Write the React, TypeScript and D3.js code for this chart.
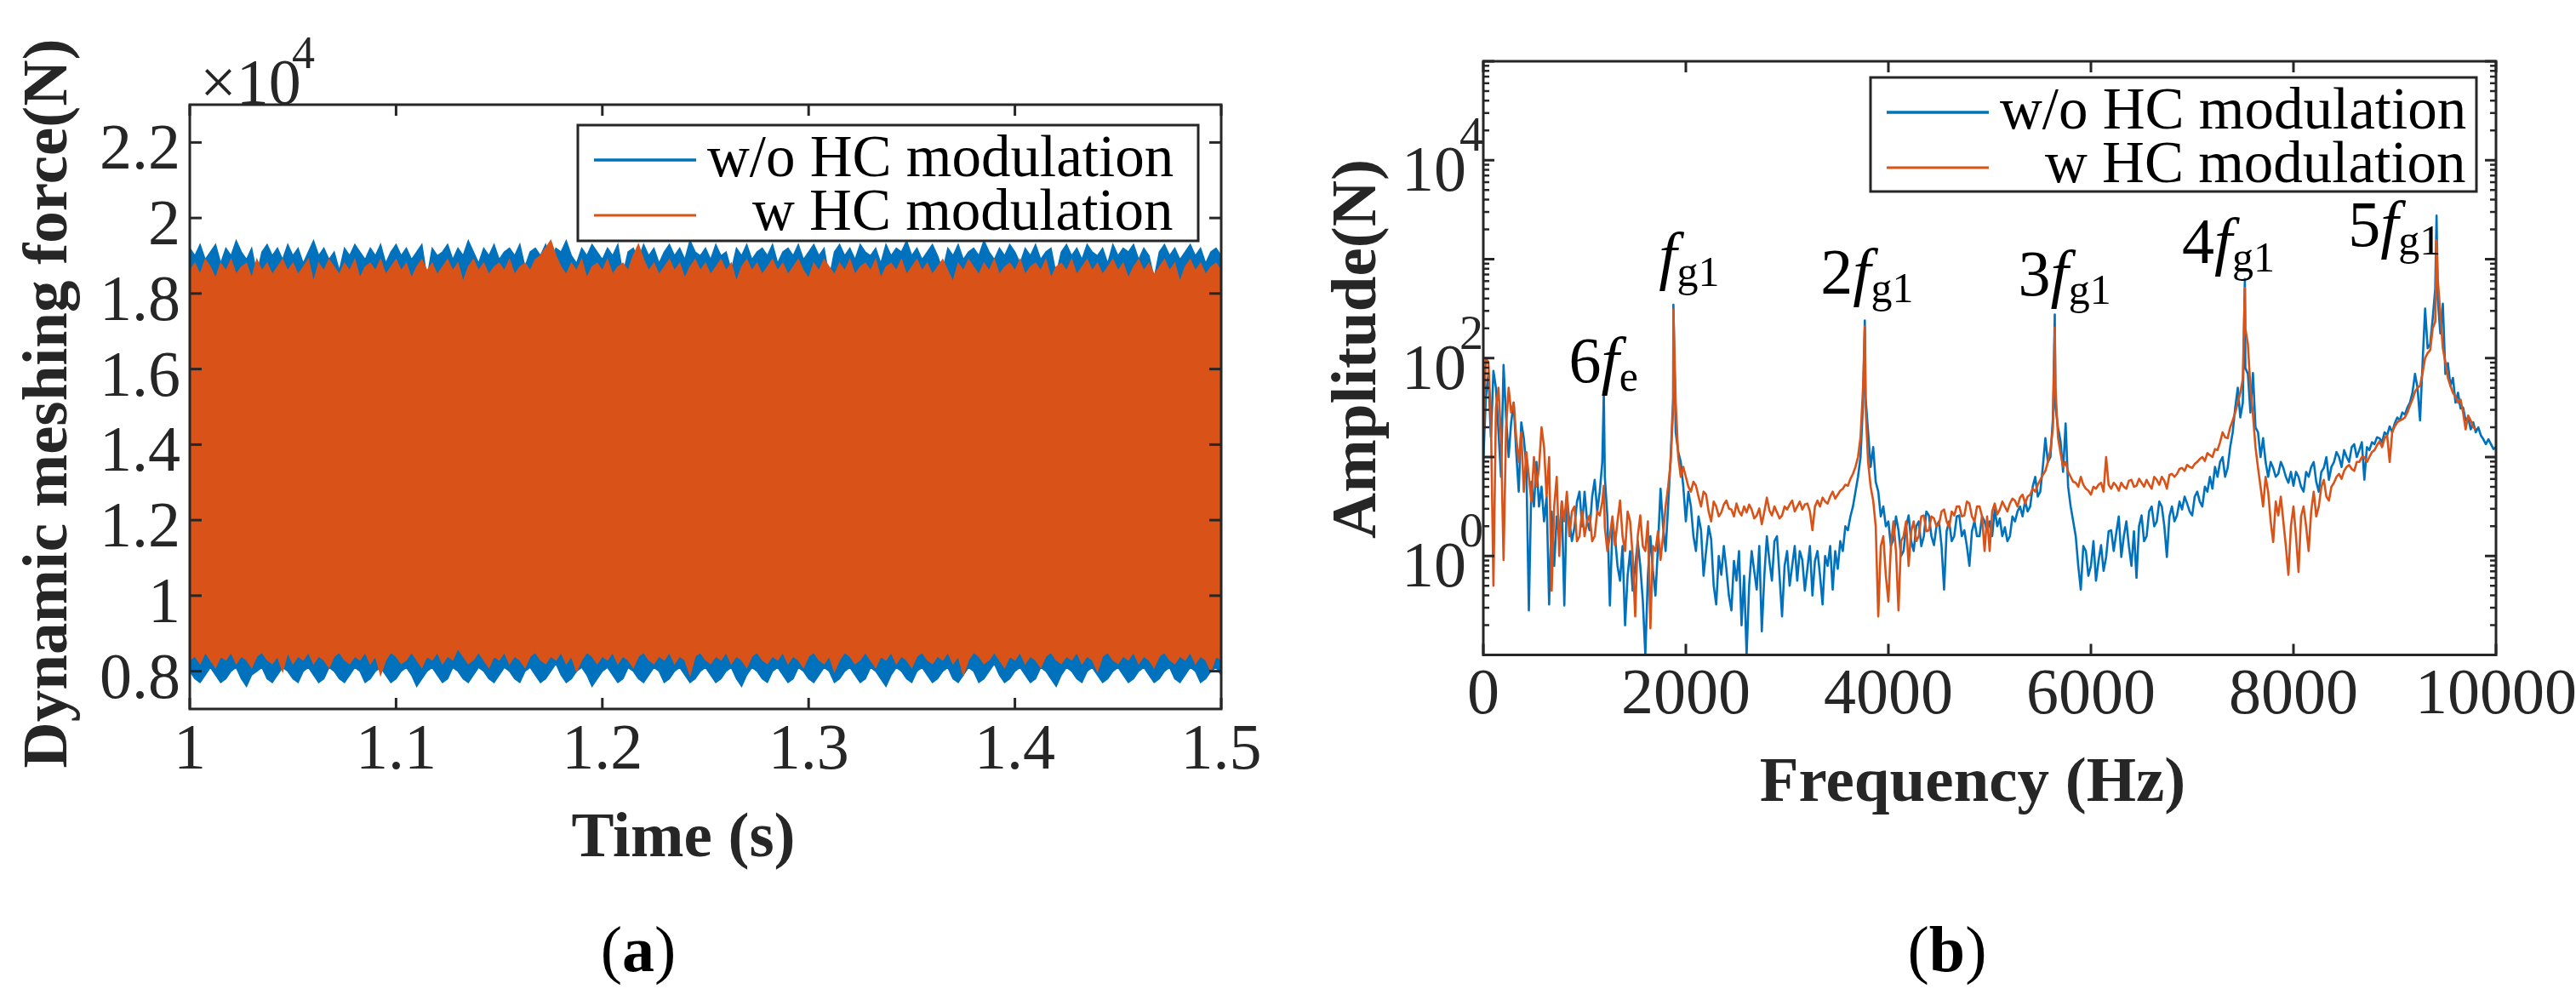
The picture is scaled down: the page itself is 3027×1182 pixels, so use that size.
import React from "react";
import * as d3 from "d3";

const W = 3027;
const H = 1182;
const FONT = '"Liberation Serif", "Times New Roman", Times, serif';
const INK = "#262626";
const BLUE = "#0072BD";
const ORANGE = "#D95319";

// ---------- (a) dynamic meshing force, x10^4 N: band envelopes every 2.5 ms from 1.0 s to 1.5 s
const topWithout = [
  1.92, 1.9, 1.93, 1.89, 1.91, 1.93, 1.88, 1.92, 1.9, 1.94, 1.91, 1.89, 1.92, 1.85, 1.91, 1.93, 1.9, 1.92, 1.89, 1.93,
  1.9, 1.92, 1.88, 1.91, 1.94, 1.9, 1.92, 1.89, 1.91, 1.86, 1.92, 1.9, 1.93, 1.91, 1.89, 1.92, 1.9, 1.93, 1.88, 1.91,
  1.93, 1.9, 1.92, 1.89, 1.91, 1.93, 1.84, 1.92, 1.9, 1.91, 1.93, 1.89, 1.92, 1.9, 1.94, 1.91, 1.88, 1.92, 1.9, 1.93,
  1.89, 1.91, 1.92, 1.9, 1.93, 1.87, 1.91, 1.92, 1.9, 1.93, 1.89, 1.92, 1.91, 1.94, 1.9, 1.88, 1.92, 1.9, 1.93, 1.91,
  1.89, 1.92, 1.9, 1.93, 1.85, 1.91, 1.92, 1.89, 1.93, 1.9, 1.92, 1.88, 1.91, 1.93, 1.9, 1.92, 1.89, 1.94, 1.91, 1.9,
  1.92, 1.89, 1.93, 1.9, 1.91, 1.86, 1.92, 1.9, 1.93, 1.89, 1.91, 1.92, 1.9, 1.93, 1.88, 1.91, 1.92, 1.9, 1.93, 1.89,
  1.91, 1.93, 1.9, 1.92, 1.84, 1.91, 1.93, 1.9, 1.92, 1.89, 1.93, 1.91, 1.9, 1.92, 1.88, 1.93, 1.9, 1.92, 1.91, 1.94,
  1.9, 1.92, 1.89, 1.91, 1.93, 1.9, 1.86, 1.92, 1.9, 1.93, 1.89, 1.91, 1.92, 1.9, 1.94, 1.91, 1.89, 1.92, 1.9, 1.93,
  1.91, 1.88, 1.92, 1.9, 1.93, 1.89, 1.91, 1.92, 1.85, 1.91, 1.93, 1.9, 1.92, 1.89, 1.93, 1.91, 1.9, 1.92, 1.88, 1.93,
  1.9, 1.92, 1.91, 1.93, 1.89, 1.92, 1.9, 1.84, 1.91, 1.93, 1.9, 1.92, 1.89, 1.91, 1.93, 1.9, 1.92, 1.88, 1.91, 1.92,
  1.9,
];
const topWith = [
  1.86, 1.88, 1.85, 1.89, 1.87, 1.84, 1.88, 1.86, 1.89, 1.85, 1.87, 1.88, 1.84, 1.89, 1.86, 1.88, 1.85, 1.87, 1.89, 1.86,
  1.88, 1.85, 1.87, 1.89, 1.83, 1.88, 1.86, 1.89, 1.87, 1.85, 1.88, 1.86, 1.89, 1.84, 1.87, 1.88, 1.86, 1.89, 1.85, 1.87,
  1.89, 1.86, 1.88, 1.84, 1.87, 1.89, 1.86, 1.88, 1.85, 1.87, 1.89, 1.86, 1.88, 1.83, 1.87, 1.89, 1.86, 1.88, 1.85, 1.87,
  1.88, 1.86, 1.89, 1.85, 1.87, 1.88, 1.86, 1.89, 1.9, 1.92, 1.94, 1.9, 1.87, 1.85, 1.88, 1.86, 1.89, 1.84, 1.87, 1.88,
  1.86, 1.89, 1.85, 1.87, 1.88, 1.86, 1.9, 1.93, 1.89, 1.86, 1.88, 1.85, 1.87, 1.89, 1.86, 1.88, 1.84, 1.87, 1.89, 1.86,
  1.88, 1.85, 1.87, 1.89, 1.86, 1.88, 1.83, 1.87, 1.89, 1.86, 1.88, 1.85, 1.87, 1.89, 1.86, 1.88, 1.85, 1.87, 1.89, 1.86,
  1.84, 1.88, 1.86, 1.89, 1.87, 1.85, 1.88, 1.86, 1.89, 1.85, 1.87, 1.88, 1.86, 1.89, 1.84, 1.87, 1.88, 1.86, 1.89, 1.85,
  1.87, 1.89, 1.86, 1.88, 1.85, 1.87, 1.89, 1.86, 1.83, 1.88, 1.86, 1.89, 1.87, 1.85, 1.88, 1.86, 1.89, 1.85, 1.87, 1.88,
  1.86, 1.89, 1.85, 1.87, 1.88, 1.86, 1.89, 1.84, 1.87, 1.88, 1.86, 1.89, 1.85, 1.87, 1.89, 1.86, 1.88, 1.85, 1.87, 1.89,
  1.86, 1.88, 1.84, 1.87, 1.89, 1.86, 1.88, 1.85, 1.87, 1.89, 1.86, 1.88, 1.83, 1.87, 1.89, 1.86, 1.88, 1.85, 1.87, 1.88,
  1.86,
];
const bottomWithout = [
  0.8, 0.78, 0.77, 0.79, 0.81, 0.79, 0.77, 0.78, 0.8, 0.81, 0.78, 0.76, 0.79, 0.8, 0.81, 0.78, 0.77, 0.79, 0.81, 0.8,
  0.78, 0.77, 0.8, 0.81, 0.79, 0.77, 0.78, 0.81, 0.8, 0.78, 0.77, 0.79, 0.81, 0.8, 0.77, 0.78, 0.8, 0.81, 0.79, 0.77,
  0.78, 0.8, 0.81, 0.79, 0.76, 0.78, 0.8, 0.81, 0.79, 0.77, 0.78, 0.81, 0.8, 0.78, 0.77, 0.79, 0.81, 0.8, 0.78, 0.77,
  0.79, 0.81, 0.8, 0.78, 0.77, 0.8, 0.81, 0.79, 0.77, 0.78, 0.8, 0.82, 0.79, 0.77, 0.78, 0.8, 0.81, 0.79, 0.76, 0.78,
  0.8, 0.81, 0.79, 0.77, 0.78, 0.81, 0.8, 0.78, 0.77, 0.79, 0.81, 0.8, 0.77, 0.78, 0.8, 0.81, 0.79, 0.77, 0.78, 0.8,
  0.81, 0.79, 0.77, 0.78, 0.8, 0.81, 0.78, 0.76, 0.79, 0.81, 0.8, 0.78, 0.77, 0.8, 0.81, 0.79, 0.77, 0.78, 0.81, 0.8,
  0.78, 0.77, 0.79, 0.81, 0.8, 0.77, 0.78, 0.8, 0.81, 0.79, 0.77, 0.78, 0.81, 0.8, 0.78, 0.76, 0.79, 0.81, 0.8, 0.78,
  0.77, 0.8, 0.81, 0.79, 0.77, 0.78, 0.8, 0.81, 0.78, 0.77, 0.79, 0.81, 0.8, 0.77, 0.78, 0.8, 0.82, 0.79, 0.77, 0.78,
  0.8, 0.81, 0.79, 0.77, 0.78, 0.81, 0.8, 0.78, 0.76, 0.79, 0.81, 0.8, 0.78, 0.77, 0.8, 0.81, 0.79, 0.77, 0.78, 0.8,
  0.81, 0.79, 0.77, 0.78, 0.8, 0.81, 0.79, 0.77, 0.78, 0.8, 0.81, 0.78, 0.77, 0.79, 0.81, 0.8, 0.77, 0.78, 0.8, 0.81,
  0.79,
];
const bottomWith = [
  0.83, 0.84, 0.82, 0.85, 0.83, 0.81, 0.84, 0.83, 0.85, 0.82, 0.84, 0.83, 0.81, 0.84, 0.85, 0.83, 0.82, 0.84, 0.8, 0.85,
  0.82, 0.84, 0.83, 0.85, 0.82, 0.84, 0.83, 0.81, 0.84, 0.85, 0.83, 0.82, 0.84, 0.83, 0.85, 0.82, 0.84, 0.79, 0.83, 0.85,
  0.84, 0.82, 0.83, 0.85, 0.83, 0.81, 0.84, 0.83, 0.85, 0.82, 0.84, 0.83, 0.86, 0.84, 0.82, 0.83, 0.85, 0.83, 0.81, 0.84,
  0.83, 0.85, 0.82, 0.84, 0.83, 0.81, 0.84, 0.85, 0.83, 0.82, 0.84, 0.83, 0.85, 0.82, 0.84, 0.8, 0.83, 0.85, 0.84, 0.82,
  0.84, 0.83, 0.85, 0.82, 0.84, 0.83, 0.81, 0.84, 0.85, 0.83, 0.82, 0.84, 0.83, 0.85, 0.82, 0.84, 0.83, 0.79, 0.84, 0.85,
  0.83, 0.82, 0.84, 0.83, 0.85, 0.82, 0.84, 0.83, 0.81, 0.84, 0.85, 0.83, 0.82, 0.84, 0.83, 0.85, 0.82, 0.84, 0.83, 0.81,
  0.84, 0.85, 0.83, 0.82, 0.84, 0.8, 0.83, 0.85, 0.84, 0.82, 0.83, 0.85, 0.83, 0.81, 0.84, 0.83, 0.85, 0.82, 0.84, 0.83,
  0.81, 0.84, 0.85, 0.83, 0.82, 0.84, 0.83, 0.85, 0.82, 0.84, 0.79, 0.83, 0.85, 0.84, 0.82, 0.83, 0.85, 0.83, 0.81, 0.84,
  0.83, 0.85, 0.82, 0.84, 0.83, 0.81, 0.84, 0.85, 0.83, 0.82, 0.84, 0.83, 0.85, 0.82, 0.84, 0.83, 0.8, 0.84, 0.85, 0.83,
  0.82, 0.84, 0.83, 0.85, 0.82, 0.84, 0.83, 0.81, 0.84, 0.85, 0.83, 0.82, 0.84, 0.83, 0.85, 0.82, 0.84, 0.83, 0.8, 0.84,
  0.83,
];
const timeTicks = [1, 1.1, 1.2, 1.3, 1.4, 1.5];
const timeTickLabels = ["1", "1.1", "1.2", "1.3", "1.4", "1.5"];
const forceTicks = [0.8, 1, 1.2, 1.4, 1.6, 1.8, 2, 2.2];
const forceTickLabels = ["0.8", "1", "1.2", "1.4", "1.6", "1.8", "2", "2.2"];

// ---------- (b) spectrum, log10 amplitude (N) every 25 Hz from 0 to 10000 Hz
const specStepHz = 25;
const logAmpWithout = [
  // 0 - 975
  0.95, 1.6, 1.84, 1.2, 1.87, 1.7, 1.25, 0.8, 1.93, 1.4, 1.0, 1.35, 1.55, 1.05, 0.65, 1.35, 1.19, 0.9, -0.55, 0.75,
  0.5, 0.95, 0.5, 0.7, 0.35, 0.6, -0.49, 0.45, -0.1, 0.4, 0.2, 0.55, -0.5, 0.6, 0.35, 0.15, 0.29, 0.55, 0.65, 0.3,
  // 1000 - 1975
  0.65, 0.35, 0.26, 0.6, 0.77, 0.45, 0.65, 0.95, 0.8, 0.4, -0.5, 0.3, 0.2, -0.1, -0.25, 0.1, -0.7, -0.2, 0.05, -0.35,
  -0.1, 0.15, -0.1, -0.45, -1.0, -0.2, 0.2, -0.15, -0.4, 0.1, 0.68, 0.3, 0.05, 0.5, 1.0, 1.6, 1.25, 1.05, 0.95, 0.7,
  // 2000 - 2975
  0.35, 0.65, 0.5, 0.2, 0.05, 0.4, 0.26, -0.2, 0.05, 0.3, 0.17, -0.3, -0.49, 0.0, -0.19, 0.1, -0.13, -0.4, -0.55, -0.05,
  -0.25, 0.05, -0.7, -0.2, -1.0, -0.3, 0.05, -0.15, -0.34, 0.1, -0.76, -0.2, 0.2, -0.05, -0.25, 0.15, 0.2, -0.2, -0.61, -0.1,
  // 3000 - 3975
  0.05, -0.3, -0.1, 0.1, -0.25, 0.05, -0.04, -0.35, -0.13, 0.1, -0.4, -0.05, 0.05, -0.2, -0.49, 0.0, -0.1, 0.1, -0.34, 0.05,
  -0.13, 0.15, 0.05, 0.3, 0.26, 0.4, 0.5, 0.65, 0.8, 1.0, 1.55, 1.6, 1.25, 0.9, 1.1, 0.75, 0.65, 0.4, 0.5, 0.3,
  // 4000 - 4975
  0.35, 0.1, 0.17, 0.4, 0.26, 0.0, 0.05, 0.3, 0.41, 0.15, 0.05, 0.3, 0.35, 0.1, 0.2, 0.45, 0.41, 0.2, 0.11, 0.3,
  0.35, 0.1, -0.34, 0.25, 0.35, 0.15, 0.2, 0.4, 0.41, 0.2, 0.26, 0.1, -0.1, 0.25, 0.35, 0.2, 0.2, 0.4, 0.35, 0.25,
  // 5000 - 5975
  0.35, 0.2, 0.47, 0.3, 0.38, 0.2, 0.29, 0.15, 0.2, 0.4, 0.35, 0.45, 0.5, 0.4, 0.56, 0.45, 0.5, 0.7, 0.8, 0.6,
  0.65, 0.9, 1.19, 0.95, 1.0, 1.4, 1.5, 1.3, 1.16, 0.85, 1.34, 0.7, 0.5, 0.35, 0.2, -0.1, -0.34, 0.1, 0.05, -0.2,
  // 6000 - 6975
  -0.1, 0.15, -0.25, -0.05, 0.11, -0.15, -0.01, 0.25, 0.26, 0.05, 0.23, 0.4, -0.01, 0.2, 0.35, 0.1, -0.1, 0.25, -0.22, 0.3,
  0.41, 0.15, 0.2, 0.45, 0.5, 0.3, 0.35, 0.55, 0.5, 0.3, -0.01, 0.4, 0.5, 0.35, 0.41, 0.55, 0.47, 0.6, 0.53, 0.45,
  // 7000 - 7975
  0.41, 0.6, 0.65, 0.55, 0.5, 0.7, 0.65, 0.8, 0.68, 0.9, 0.8, 0.95, 1.0, 0.8, 0.89, 1.1, 1.25, 1.5, 1.7, 1.4,
  1.55, 1.9, 1.84, 1.45, 1.85, 1.3, 1.25, 1.0, 1.19, 0.95, 0.8, 0.95, 0.89, 0.8, 0.83, 0.95, 0.89, 0.8, 0.74, 0.85,
  // 8000 - 8975
  0.71, 0.85, 0.8, 0.7, 0.65, 0.85, 0.8, 0.9, 0.95, 0.75, 0.65, 0.85, 0.89, 1.0, 0.77, 0.9, 0.95, 1.05, 1.0, 0.9,
  1.07, 1.0, 0.95, 1.1, 1.13, 1.0, 1.07, 1.15, 0.77, 1.1, 1.07, 1.15, 1.13, 1.2, 1.19, 1.15, 1.25, 1.22, 1.31, 1.25,
  // 9000 - 10000
  1.34, 1.4, 1.37, 1.45, 1.43, 1.5, 1.55, 1.65, 1.84, 1.7, 1.37, 1.95, 2.5, 2.1, 2.14, 2.4, 2.7, 2.6, 2.25, 2.55,
  1.84, 1.95, 1.72, 1.8, 1.55, 1.65, 1.49, 1.5, 1.37, 1.4, 1.28, 1.35, 1.25, 1.3, 1.22, 1.18, 1.13, 1.18, 1.13, 1.08,
  1.1,
];
const logAmpWith: (number | null)[] = [
  // 0 - 975
  1.25, 2.0, 1.96, 1.4, -0.3, 1.5, 1.7, 1.2, -0.04, 1.3, 1.7, 1.45, 1.55, 1.2, 0.95, 1.25, 0.65, 1.05, 0.8, 0.55,
  1.0, 0.7, 0.89, 1.3, 1.1, 0.6, 1.0, -0.35, 0.5, 0.8, 0.0, 0.55, 0.35, 0.65, 0.2, 0.45, 0.5, 0.15, 0.2, 0.45,
  // 1000 - 1975
  0.2, 0.35, 0.41, 0.15, 0.2, 0.45, 0.41, 0.55, 0.29, 0.05, 0.2, 0.4, 0.11, 0.35, 0.56, 0.2, 0.05, 0.45, 0.35, 0.0,
  -0.61, 0.2, 0.41, 0.1, 0.05, 0.35, -0.73, 0.1, 0.05, 0.25, -0.04, 0.2, 0.5, 0.7, 0.95, 1.5, 1.55, 1.0, 0.8, 0.9,
  // 2000 - 2975
  0.8, 0.7, 0.65, 0.75, 0.71, 0.6, 0.5, 0.65, 0.62, 0.45, 0.35, 0.55, 0.5, 0.4, 0.44, 0.52, 0.56, 0.48, 0.47, 0.4,
  0.53, 0.45, 0.41, 0.5, 0.44, 0.52, 0.47, 0.38, 0.41, 0.48, 0.32, 0.45, 0.59, 0.46, 0.41, 0.5, 0.44, 0.38, 0.41, 0.5,
  // 3000 - 3975
  0.47, 0.52, 0.56, 0.45, 0.5, 0.55, 0.47, 0.52, 0.53, 0.45, 0.26, 0.5, 0.56, 0.5, 0.59, 0.55, 0.53, 0.6, 0.65, 0.58,
  0.62, 0.66, 0.68, 0.72, 0.71, 0.78, 0.83, 0.9, 1.0, 1.2, 1.7, 1.5, 0.95, 0.7, 0.56, 0.3, -0.61, 0.1, 0.2, -0.2,
  // 4000 - 4975
  -0.46, 0.1, 0.35, 0.05, -0.55, 0.15, 0.2, 0.35, -0.1, 0.25, 0.35, 0.15, 0.2, 0.4, 0.41, 0.25, 0.26, 0.4, 0.38, 0.3,
  0.32, 0.45, 0.47, 0.35, 0.29, 0.45, 0.41, 0.5, 0.5, 0.4, 0.41, 0.55, 0.53, 0.4, 0.35, 0.5, 0.5, 0.4, 0.05, 0.4,
  // 5000 - 5975
  0.05, 0.45, 0.53, 0.42, 0.47, 0.55, 0.5, 0.45, 0.53, 0.58, 0.56, 0.5, 0.59, 0.62, 0.53, 0.6, 0.62, 0.68, 0.65, 0.72,
  0.77, 0.82, 0.86, 0.95, 1.07, 1.3, 1.7, 1.2, 1.04, 0.9, 0.95, 0.85, 0.8, 0.75, 0.74, 0.7, 0.8, 0.72, 0.68, 0.66,
  // 6000 - 6975
  0.62, 0.7, 0.68, 0.72, 0.74, 0.65, 1.0, 0.72, 0.68, 0.74, 0.71, 0.66, 0.74, 0.7, 0.68, 0.76, 0.77, 0.7, 0.71, 0.78,
  0.74, 0.7, 0.77, 0.72, 0.68, 0.8, 0.77, 0.72, 0.8, 0.76, 0.68, 0.82, 0.83, 0.8, 0.83, 0.88, 0.89, 0.86, 0.92, 0.9,
  // 7000 - 7975
  0.89, 0.93, 0.95, 0.98, 1.0, 0.96, 1.04, 1.02, 1.0, 1.08, 1.07, 1.15, 1.25, 1.2, 1.19, 1.3, 1.37, 1.45, 1.55, 1.65,
  1.79, 2.3, 2.14, 1.7, 1.43, 1.1, 0.89, 0.7, 0.5, 0.8, 0.65, 0.35, 0.14, 0.55, 0.41, 0.6, 0.35, 0.1, -0.19, 0.3,
  // 8000 - 8975
  0.5, 0.2, -0.16, 0.4, 0.5, 0.3, 0.05, 0.45, 0.65, 0.4, 0.5, 0.7, 0.77, 0.6, 0.56, 0.7, 0.74, 0.8, 0.83, 0.78,
  0.86, 0.9, 0.92, 0.88, 0.86, 0.95, 0.95, 1.0, 1.0, 0.95, 1.0, 1.05, 1.07, 1.12, 1.16, 1.1, 1.19, 1.22, 0.95, 1.25,
  // 9000 - 10000 (trace stops near 9800 Hz)
  1.31, 1.35, 1.37, 1.38, 1.4, 1.45, 1.52, 1.58, 1.66, 1.7, 1.72, 1.85, 2.0, 2.05, 2.08, 2.3, 2.37, 2.8, 2.45, 2.1,
  1.96, 1.8, 1.72, 1.65, 1.61, 1.55, 1.58, 1.45, 1.28, 1.42, 1.37, 1.3, 1.28, null, null, null, null, null, null, null,
  null,
];
// sharp harmonic peaks
const peakHz = [1190, 1877, 3767, 5643, 7520, 9413];
const peakLogWithout = [1.66, 2.54, 2.38, 2.44, 2.8, 3.44];
const peakLogWith = [0.71, 2.49, 2.32, 2.31, 2.71, 3.19];
const peakPrefix = ["6", "", "2", "3", "4", "5"];
const peakSub = ["e", "g1", "g1", "g1", "g1", "g1"];

const freqTicks = [0, 2000, 4000, 6000, 8000, 10000];
const legendNames = ["w/o HC modulation", "w HC modulation"];

// label placement relative to each peak (pixels)
const peakLabelPos = [
  { dx: -41, y: 449 },
  { dx: -17, y: 326 },
  { dx: -52, y: 345 },
  { dx: -43, y: 347 },
  { dx: -74, y: 309 },
  { dx: -104, y: 289 },
];

function Legend({ x, y, w, h }: { x: number; y: number; w: number; h: number }) {
  return (
    <g>
      <rect x={x} y={y} width={w} height={h} fill="#fff" stroke={INK} strokeWidth={3} />
      <line x1={x + 19} x2={x + 139} y1={y + 41} y2={y + 41} stroke={BLUE} strokeWidth={3.5} />
      <line x1={x + 19} x2={x + 139} y1={y + 106} y2={y + 106} stroke={ORANGE} strokeWidth={3} />
      <text x={x + 152} y={y + 60} fontFamily={FONT} fontSize={69} fill="#000">
        {legendNames[0]}
      </text>
      <text x={x + 205} y={y + 123} fontFamily={FONT} fontSize={69} fill="#000">
        {legendNames[1]}
      </text>
    </g>
  );
}

function PanelA() {
  const x = d3.scaleLinear().domain([1, 1.5]).range([223, 1435]);
  const y = d3.scaleLinear().domain([0.7, 2.3]).range([833, 123]);
  const t = d3.scaleLinear().domain([0, topWithout.length - 1]).range([1, 1.5]);
  const [left, right] = x.range();
  const [bottom, top] = y.range();

  const band = (lo: number[], hi: number[]) =>
    d3
      .area<number>()
      .x((_, i) => x(t(i)))
      .y0((_, i) => y(lo[i]))
      .y1((d) => y(d))(hi) ?? "";

  return (
    <g>
      <clipPath id="clipA">
        <rect x={left} y={top} width={right - left} height={bottom - top} />
      </clipPath>
      <g clipPath="url(#clipA)">
        <path d={band(bottomWithout, topWithout)} fill={BLUE} stroke={BLUE} strokeWidth={1.5} />
        <path d={band(bottomWith, topWith)} fill={ORANGE} stroke={ORANGE} strokeWidth={1.5} />
      </g>

      {timeTicks.map((v) => (
        <g key={v} stroke={INK} strokeWidth={3}>
          <line x1={x(v)} x2={x(v)} y1={bottom} y2={bottom - 13} />
          <line x1={x(v)} x2={x(v)} y1={top} y2={top + 13} />
        </g>
      ))}
      {forceTicks.map((v) => (
        <g key={v} stroke={INK} strokeWidth={3}>
          <line x1={left} x2={left + 14} y1={y(v)} y2={y(v)} />
          <line x1={right} x2={right - 14} y1={y(v)} y2={y(v)} />
        </g>
      ))}
      <rect x={left} y={top} width={right - left} height={bottom - top} fill="none" stroke={INK} strokeWidth={3} />

      <g fontFamily={FONT} fontSize={76} fill={INK}>
        {timeTicks.map((v, i) => (
          <text key={v} x={x(v)} y={903} textAnchor="middle">
            {timeTickLabels[i]}
          </text>
        ))}
        {forceTicks.map((v, i) => (
          <text key={v} x={left - 11} y={y(v) + 31} textAnchor="end">
            {forceTickLabels[i]}
          </text>
        ))}
        <text x={235} y={122}>×10</text>
        <text x={343} y={80} fontSize={54}>4</text>
      </g>

      <text
        transform={`translate(78, 474) rotate(-90)`}
        textAnchor="middle"
        fontFamily={FONT}
        fontWeight="bold"
        fontSize={75}
        fill={INK}
      >
        Dynamic meshing force(N)
      </text>
      <text x={803} y={1006} textAnchor="middle" fontFamily={FONT} fontWeight="bold" fontSize={75} fill={INK}>
        Time (s)
      </text>

      <Legend x={679} y={147} w={729} h={136} />

      <text x={750} y={1141} textAnchor="middle" fontFamily={FONT} fontSize={76} fill="#000">
        (<tspan fontWeight="bold">a</tspan>)
      </text>
    </g>
  );
}

function PanelB() {
  const x = d3.scaleLinear().domain([0, 10000]).range([1743, 2933]);
  const y = d3.scaleLog().domain([0.1, 1e5]).range([769.5, 72]);
  const [left, right] = x.range();
  const [bottom, top] = y.range();

  const freqs = logAmpWithout.map((_, i) => i * specStepHz);
  const merge = (vals: (number | null)[], peaks: number[]) =>
    [
      ...freqs.map((f, i) => [f, vals[i]] as [number, number | null]),
      ...peakHz.map((f, i) => [f, peaks[i]] as [number, number | null]),
    ].sort((a, b) => a[0] - b[0]);

  const line = d3
    .line<[number, number | null]>()
    .defined((d) => d[1] != null)
    .x((d) => x(d[0]))
    .y((d) => y(Math.pow(10, d[1] as number)));

  const decades = d3.range(-1, 6);
  const minors: number[] = [];
  decades.slice(0, -1).forEach((e) => {
    for (let k = 2; k <= 9; k++) minors.push(k * Math.pow(10, e));
  });

  return (
    <g>
      <clipPath id="clipB">
        <rect x={left} y={top} width={right - left} height={bottom - top} />
      </clipPath>
      <g clipPath="url(#clipB)" fill="none" strokeLinejoin="round">
        <path d={line(merge(logAmpWithout, peakLogWithout)) ?? ""} stroke={BLUE} strokeWidth={2.6} />
        <path d={line(merge(logAmpWith, peakLogWith)) ?? ""} stroke={ORANGE} strokeWidth={2.6} />
      </g>

      {freqTicks.map((v) => (
        <g key={v} stroke={INK} strokeWidth={3}>
          <line x1={x(v)} x2={x(v)} y1={bottom} y2={bottom - 13} />
          <line x1={x(v)} x2={x(v)} y1={top} y2={top + 13} />
        </g>
      ))}
      {decades.map((e) => {
        const yy = y(Math.pow(10, e));
        return (
          <g key={e} stroke={INK} strokeWidth={3}>
            <line x1={left} x2={left + 13} y1={yy} y2={yy} />
            <line x1={right} x2={right - 13} y1={yy} y2={yy} />
          </g>
        );
      })}
      {minors.map((v) => (
        <g key={v} stroke={INK} strokeWidth={2.5}>
          <line x1={left} x2={left + 7} y1={y(v)} y2={y(v)} />
          <line x1={right} x2={right - 7} y1={y(v)} y2={y(v)} />
        </g>
      ))}
      <rect x={left} y={top} width={right - left} height={bottom - top} fill="none" stroke={INK} strokeWidth={3} />

      <g fontFamily={FONT} fontSize={76} fill={INK}>
        {freqTicks.map((v) => (
          <text key={v} x={x(v)} y={838} textAnchor="middle">
            {v}
          </text>
        ))}
        {[0, 2, 4].map((e) => {
          const yy = y(Math.pow(10, e));
          return (
            <g key={e}>
              <text x={1723} y={yy + 36} textAnchor="end">10</text>
              <text x={1715} y={yy - 11} fontSize={56}>{e}</text>
            </g>
          );
        })}
      </g>

      {peakHz.map((f, i) => (
        <text
          key={f}
          x={x(f) + peakLabelPos[i].dx}
          y={peakLabelPos[i].y}
          fontFamily={FONT}
          fontSize={76}
          fill="#000"
        >
          {peakPrefix[i] && <tspan>{peakPrefix[i]}</tspan>}
          <tspan fontStyle="italic">f</tspan>
          <tspan fontSize={50} dy={10}>{peakSub[i]}</tspan>
        </text>
      ))}

      <text
        transform={`translate(1616, 410) rotate(-90)`}
        textAnchor="middle"
        fontFamily={FONT}
        fontWeight="bold"
        fontSize={75}
        fill={INK}
      >
        Amplitude(N)
      </text>
      <text x={2318} y={941} textAnchor="middle" fontFamily={FONT} fontWeight="bold" fontSize={75} fill={INK}>
        Frequency (Hz)
      </text>

      <Legend x={2198} y={91} w={712} h={134} />

      <text x={2288} y={1141} textAnchor="middle" fontFamily={FONT} fontSize={76} fill="#000">
        (<tspan fontWeight="bold">b</tspan>)
      </text>
    </g>
  );
}

export default function App() {
  return (
    <svg
      width={W}
      height={H}
      viewBox={`0 0 ${W} ${H}`}
      style={{ position: "absolute", left: 0, top: 0, display: "block", background: "#fff" }}
    >
      <rect width={W} height={H} fill="#fff" />
      <PanelA />
      <PanelB />
    </svg>
  );
}
